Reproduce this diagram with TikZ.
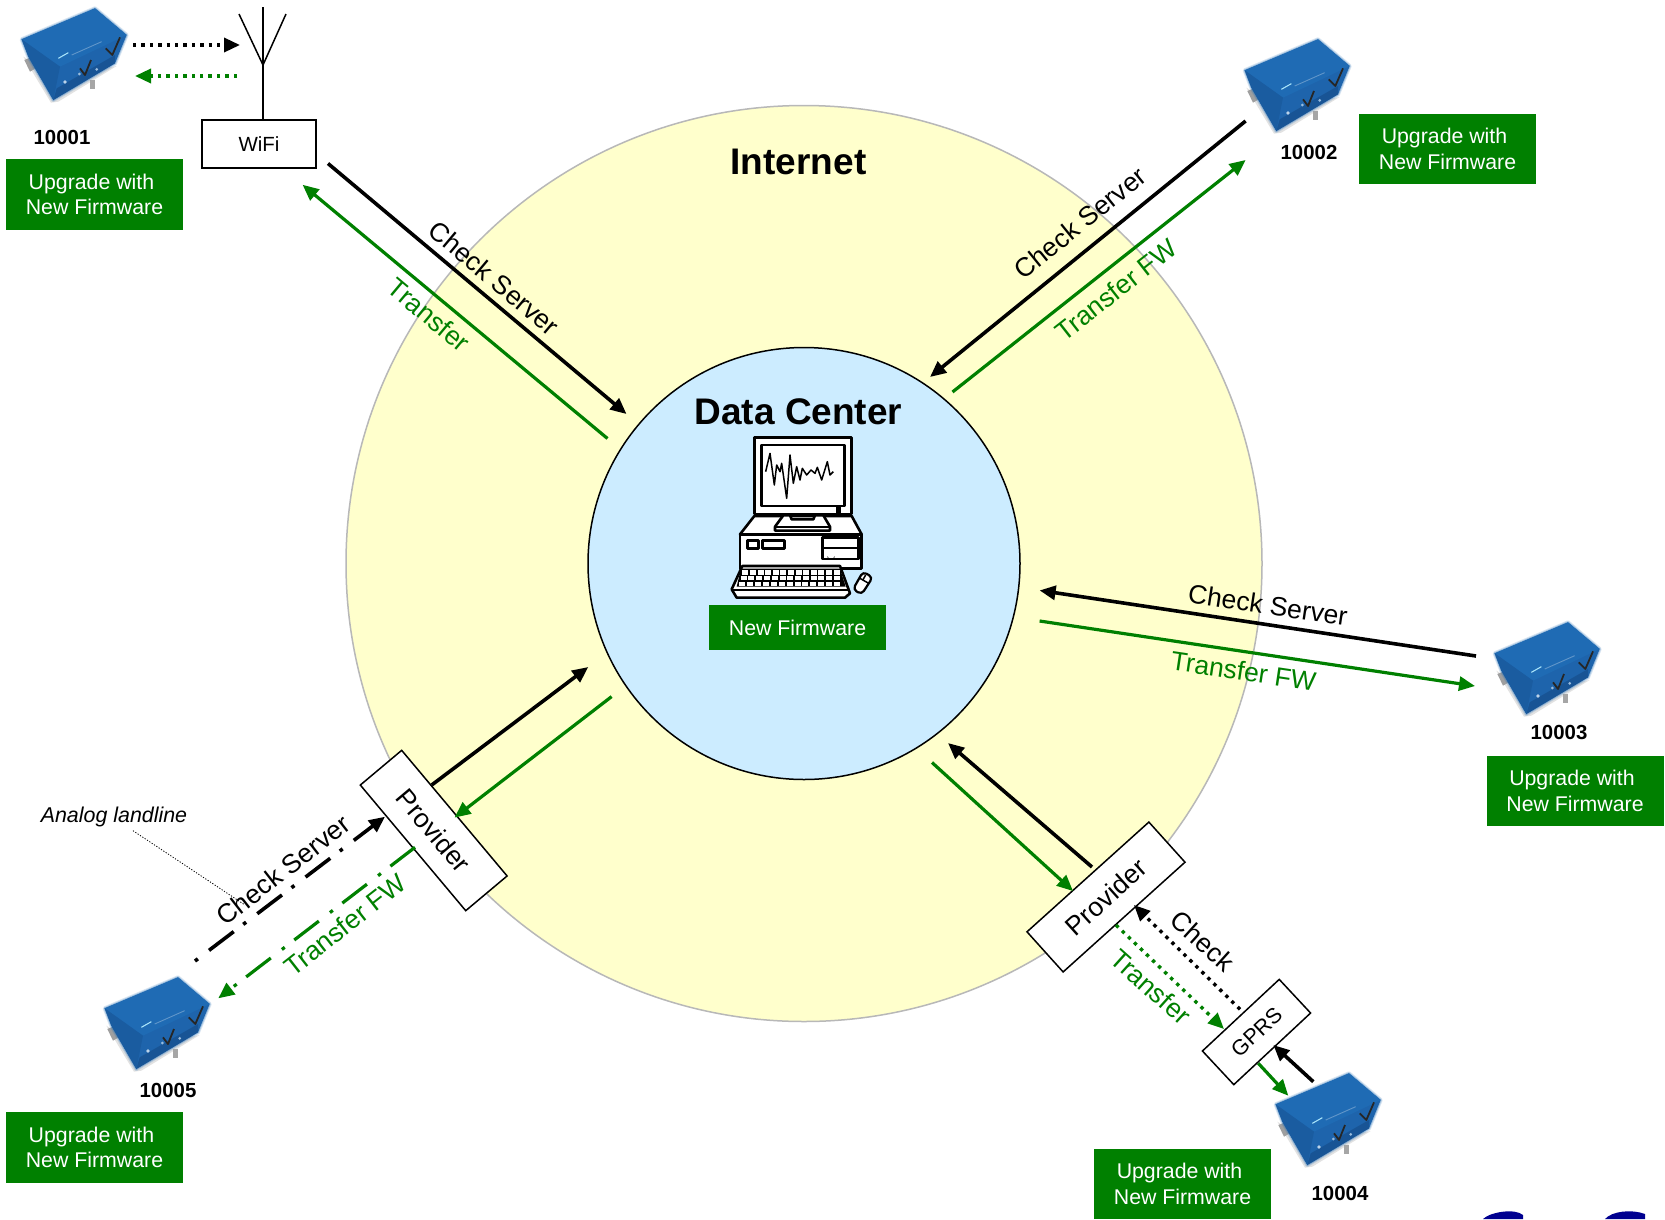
\documentclass[tikz,border=0pt]{standalone}
\usepackage{fontspec}
\setmainfont{Liberation Sans}
\usetikzlibrary{arrows.meta}
\definecolor{fwgreen}{HTML}{008000}
\definecolor{inetyellow}{HTML}{FFFFCC}
\definecolor{dcblue}{HTML}{CCECFF}
\definecolor{logoblue}{HTML}{000090}
\definecolor{devtop}{HTML}{1F6BB4}
\definecolor{devfront}{HTML}{1E64AC}
\definecolor{devleft}{HTML}{1A5CA0}
\definecolor{devlow}{HTML}{164E8C}
\newcommand{\myfs}[1]{\fontsize{#1}{#1}\selectfont}
\tikzset{
  link/.style={-{Triangle[length=16pt,width=14pt]}},
  blk/.style={link,black,line width=3.6pt},
  grn/.style={link,fwgreen,line width=3.2pt},
  dotblk/.style={blk,line width=3.4pt,dash pattern=on 3.4pt off 5pt},
  dotgrn/.style={grn,line width=3.4pt,dash pattern=on 3.4pt off 5pt},
  gbox/.style={fill=fwgreen,text=white,minimum width=177pt,inner sep=0pt,align=center,font=\fontsize{21.3}{25.6}\selectfont},
  upg/.style={gbox,minimum height=70.5pt},
  numlabel/.style={font=\bfseries\myfs{20.4},inner sep=0pt},
  wbox/.style={draw=black,fill=white,line width=1.5pt,inner sep=0pt},
  lbl/.style={font=\myfs{26.5},inner sep=0pt},
  lblg/.style={lbl,text=fwgreen},
  device/.pic={
    \begin{scope}[scale=1/3,line join=round]
      % shadow and pins
      \fill[gray!50,opacity=.45] (25,170) -- (70,245) -- (108,308) -- (130,305) -- (305,198) -- (120,230) -- cycle;
      \fill[gray!75] (28,180) -- (48,172) -- (62,205) -- (45,215) -- cycle;
      \fill[gray!70] (224,240) rectangle (240,266);
      % soft edge
      \draw[devtop,opacity=.18,line width=4pt] (20,118) -- (240,25) -- (335,105) -- (300,190) -- (115,300) -- (40,170) -- cycle;
      \draw[devtop,opacity=.3,line width=2pt] (20,118) -- (240,25) -- (335,105) -- (300,190) -- (115,300) -- (40,170) -- cycle;
      % body
      \fill[devfront] (20,118) -- (240,25) -- (335,105) -- (300,190) -- (115,300) -- (40,170) -- cycle;
      \fill[devtop] (20,118) -- (240,25) -- (335,105) -- (135,200) -- cycle;
      \fill[devleft] (20,118) -- (135,200) -- (115,300) -- (40,170) -- cycle;
      \fill[devlow,opacity=.7] (125,265) -- (300,165) -- (300,190) -- (115,300) -- cycle;
      % marks
      \draw[black!85,line width=1.8pt] (195,205) -- (210,225) -- (228,180);
      \draw[black!85,line width=1.8pt] (272,145) -- (292,165) -- (315,112);
      \draw[cyan!35!white,line width=1.1pt] (130,175) -- (160,158);
      \draw[devtop!70!white,line width=.9pt] (170,165) -- (260,125);
      \fill[white!70!devtop] (150,246) circle (5.5);
      \fill[white!55!devtop] (193,222) circle (4.5);
      \fill[white!55!devtop] (245,208) circle (4.5);
    \end{scope}
  }
}
\begin{document}
\begin{tikzpicture}[x=1pt,y=-1pt]
\useasboundingbox (0,0) rectangle (1665,1219);
\fill[white] (0,0) rectangle (1665,1219);

% circles
\node[circle,draw=black!28,fill=inetyellow,line width=1.5pt,minimum size=916pt,inner sep=0pt] (inet) at (804,563.5) {};
\node[circle,draw=black,fill=dcblue,line width=1.5pt,minimum size=432pt,inner sep=0pt] (dc) at (804,563.5) {};
\node[font=\bfseries\myfs{37},inner sep=0pt] (inettext) at (798.5,162) {Internet};
\node[font=\bfseries\myfs{37},inner sep=0pt] (dctext) at (798.5,412) {Data Center};

% computer
\begin{scope}[shift={(725,430)},scale=1/3,line join=round]
  \draw[line width=2.6pt,fill=white] (88,22) rectangle (380,252);
  \draw[line width=2.6pt] (110,45) rectangle (358,228);
  \draw[line width=1.5pt] (122,125) -- (135,70) -- (148,165) -- (155,105) -- (165,125) -- (170,100) -- (185,205) -- (195,75) -- (205,160) -- (215,110) -- (225,150) -- (232,115) -- (245,135) -- (258,120) -- (270,130) -- (277,112) -- (290,150) -- (307,95) -- (315,135) -- (325,125);
  \fill (333,230) rectangle (348,248);
  \draw[line width=2.6pt,fill=white] (88,258) -- (45,313) -- (410,313) -- (380,258) -- cycle;
  \draw[line width=2.6pt,fill=white] (45,313) rectangle (410,415);
  \draw[line width=2.6pt,fill=white] (175,256) -- (150,290) -- (150,302) -- (315,302) -- (315,290) -- (295,256) -- (270,256) -- (265,268) -- (200,268) -- (195,256) -- cycle;
  \draw[line width=2.2pt] (152,290) -- (313,290);
  \draw[line width=2.6pt] (68,332) rectangle (100,355);
  \draw[line width=2.6pt] (112,332) rectangle (178,355);
  \draw[line width=2.6pt,fill=white] (292,322) rectangle (400,387);
  \draw[line width=2.2pt] (292,353) -- (400,353);
  \fill (308,387) -- (308,378) arc[start angle=180,end angle=360,x radius=10,y radius=-10] -- (328,387) -- cycle;
  \draw[line width=2.6pt,fill=white] (52,408) -- (345,408) -- (375,490) -- (360,503) -- (35,503) -- (20,478) -- cycle;
  \draw[line width=1.6pt] (24,480) -- (370,480);
  \fill[black] (48,416) -- (345,416) -- (362,470) -- (35,470) -- cycle;
  \foreach \r in {0,1,2}{
    \foreach \c in {0,...,12}{
      \pgfmathsetmacro{\ytop}{420+\r*17.5}
      \pgfmathsetmacro{\xl}{(52-5*\r)+\c*(22.8+.5*\r)}
      \fill[white] (\xl,\ytop) rectangle ++(18,13.5);
    }
  }
  \draw[line width=2.2pt,fill=white,rounded corners=4pt] (384,478) -- (414,425) -- (443,442) -- (410,493) -- cycle;
  \draw[line width=1.5pt] (403,444) -- (431,460);
  \draw[line width=1.5pt] (422,435) -- (414,449);
\end{scope}

% new firmware box
\node[gbox,minimum height=45pt] (fwbox) at (797.5,627.5) {New Firmware};

% devices
\pic at (15,0) {device};
\pic at (1238,31) {device};
\pic at (1488,614) {device};
\pic at (1269,1065) {device};
\pic at (98,969) {device};

% device labels
\node[numlabel] (n1) at (62,137) {10001};
\node[numlabel] (n2) at (1309,152) {10002};
\node[numlabel] (n3) at (1559,732) {10003};
\node[numlabel] (n4) at (1340,1193) {10004};
\node[numlabel] (n5) at (168,1090) {10005};

% upgrade boxes
\node[upg] (u1) at (94.5,194.5) {Upgrade with\hspace*{6pt}\\New Firmware};
\node[upg] (u2) at (1447.5,149) {Upgrade with\hspace*{6pt}\\New Firmware};
\node[upg] (u3) at (1575,791) {Upgrade with\hspace*{6pt}\\New Firmware};
\node[upg] (u4) at (1182.5,1184) {Upgrade with\hspace*{6pt}\\New Firmware};
\node[upg] (u5) at (94.5,1147.5) {Upgrade with\hspace*{6pt}\\New Firmware};

% WiFi and antenna
\node[wbox,minimum width=114pt,minimum height=48pt,font=\myfs{20.5}] (wifi) at (259,144) {WiFi};
\coordinate (anttop) at (263,7);
\coordinate (antjoin) at (263,65);
\coordinate (antl) at (239,14);
\coordinate (antr) at (286,14);
\draw[line width=1.5pt] (anttop) -- (wifi.north -| anttop);
\draw[line width=1.5pt] (antl) -- (antjoin) -- (antr);

% providers and GPRS
\node[wbox,minimum width=164pt,minimum height=54pt,rotate=-50,font=\myfs{26.5}] (provl) at (433.7,830.5) {Provider};
\node[wbox,minimum width=164pt,minimum height=54pt,rotate=42,font=\myfs{26.5}] (provr) at (1106,897) {Provider};
\node[wbox,minimum width=105pt,minimum height=46pt,rotate=43,font=\myfs{21.5}] (gprs) at (1256.5,1032) {GPRS};

% connector ends
\coordinate (d1out) at (133,45);   \coordinate (antin) at (240,45);
\coordinate (antout) at (237,76);  \coordinate (d1in) at (135,76);
\coordinate (wo) at (328,163.5);   \coordinate (dca) at (626.5,414);
\coordinate (dcb) at (607.5,438.5);\coordinate (wi) at (302.6,184.8);
\coordinate (d2o) at (1245.6,121); \coordinate (dcc) at (930,377);
\coordinate (dcd) at (952.5,392);  \coordinate (d2i) at (1245.6,160);
\coordinate (d3o) at (1476,656);   \coordinate (dce) at (1039.6,590.4);
\coordinate (dcf) at (1039.6,621); \coordinate (d3i) at (1475,686);
\coordinate (pro) at (1092,867);   \coordinate (dcg) at (948,743);
\coordinate (dch) at (932,762.5);  \coordinate (pri) at (1073,891);
\coordinate (gpo) at (1240,1009.3);\coordinate (pri2) at (1134,905);
\coordinate (pro2) at (1116,925);  \coordinate (gpi) at (1224,1029);
\coordinate (d4o) at (1313.3,1081.7);\coordinate (gpi2) at (1273.3,1045);
\coordinate (gpo2) at (1258.3,1063.3);\coordinate (d4i) at (1288.3,1095.7);
\coordinate (plo) at (431.7,785);  \coordinate (dci) at (588.3,667);
\coordinate (dcj) at (611.6,696.6);\coordinate (pli) at (454.5,817.6);
\coordinate (d5o) at (195,961);    \coordinate (pli2) at (385,816.7);
\coordinate (plo2) at (415,847.3); \coordinate (d5i) at (218.3,998.3);
\coordinate (annot) at (133,830.7);\coordinate (annotend) at (245,905);

% connectors
\draw[dotblk] (d1out) -- (antin);
\draw[dotgrn] (antout) -- (d1in);
\draw[blk] (wo) -- (dca);
\draw[grn] (dcb) -- (wi);
\draw[blk] (d2o) -- (dcc);
\draw[grn] (dcd) -- (d2i);
\draw[blk] (d3o) -- (dce);
\draw[grn] (dcf) -- (d3i);
\draw[blk] (pro) -- (dcg);
\draw[grn] (dch) -- (pri);
\draw[dotblk] (gpo) -- (pri2);
\draw[dotgrn] (pro2) -- (gpi);
\draw[blk] (d4o) -- (gpi2);
\draw[grn] (gpo2) -- (d4i);
\draw[blk] (plo) -- (dci);
\draw[grn] (dcj) -- (pli);
\draw[blk,dash pattern=on 31pt off 12pt on 3.6pt off 14pt,dash phase=43pt] (d5o) -- (pli2);
\draw[grn,dash pattern=on 31pt off 12pt on 3.6pt off 14pt] (plo2) -- (d5i);
\draw[line width=.8pt,dash pattern=on 1.2pt off 1.6pt] (annot) -- (annotend);

% connector labels
\node[lbl,rotate=-40] (t1) at (494,278) {Check Server};
\node[lblg,rotate=-40] (t2) at (429,315) {Transfer};
\node[lbl,rotate=39] (t3) at (1080,223) {Check Server};
\node[lblg,rotate=38] (t4) at (1116,290) {Transfer FW};
\node[lbl,rotate=-8.5] (t5) at (1268,605) {Check Server};
\node[lblg,rotate=-8.5] (t6) at (1243.5,671) {Transfer FW};
\node[lbl,rotate=-42] (t7) at (1202.7,940.7) {Check};
\node[lblg,rotate=-42] (t8) at (1150.7,986.7) {Transfer};
\node[lbl,rotate=38] (t9) at (283,870) {Check Server};
\node[lblg,rotate=38] (t10) at (345,925) {Transfer FW};
\node[font=\itshape\myfs{21.4},inner sep=0pt] (analog) at (114,817) {Analog landline};

% logo fragment at the page edge
\begin{scope}
  \clip (0,0) rectangle (1665,1219);
  \fill[logoblue] (1483,1219) .. controls (1490,1212) and (1515,1208) .. (1523,1215) -- (1523,1219) -- cycle;
  \fill[logoblue] (1605,1219) .. controls (1612,1211) and (1632,1209) .. (1645,1214) -- (1645,1219) -- cycle;
\end{scope}
\end{tikzpicture}
\end{document}
